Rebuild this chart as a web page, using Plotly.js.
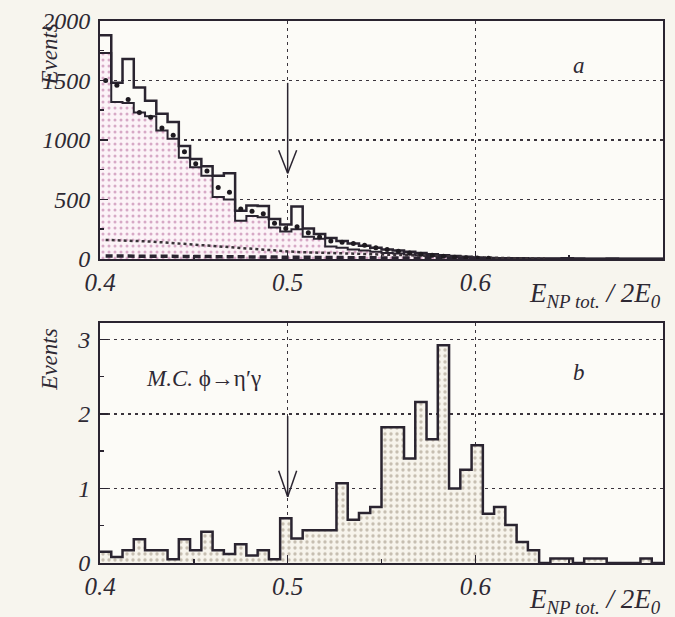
<!DOCTYPE html>
<html>
<head>
<meta charset="utf-8">
<script src="https://cdn.plot.ly/plotly-3.0.1.min.js"></script>
<style>
  html, body { margin: 0; padding: 0; background: #f7f5ee; }
  #chart { width: 675px; height: 617px; }
</style>
</head>
<body>
<div id="chart"></div>
<script>
// Binning shared by both panels: 50 bins of 0.006 from 0.4 to 0.7
const binStart = 0.4;
const binWidth = 0.006;

// Panel a: simulated spectra (two step histograms), data points and background curves
const simUpper = [1880, 1480, 1680, 1440, 1330, 1220, 1150, 950, 840, 780,
                  700, 720, 405, 450, 445, 335, 290, 440, 255, 210,
                  175, 150, 130, 110, 95, 80, 70, 60, 50, 40,
                  32, 25, 18, 12, 8, 6, 5, 5, 4, 3,
                  3, 6, 3, 2, 2, 3, 2, 2, 2, 2];
const simLower = [1730, 1320, 1310, 1230, 1200, 1080, 1010, 850, 770, 700,
                  520, 500, 320, 360, 350, 265, 230, 250, 187, 170,
                  105, 95, 80, 70, 60, 50, 45, 38, 30, 25,
                  20, 15, 12, 8, 5, 3, 2, 2, 2, 1,
                  1, 2, 1, 1, 1, 1, 1, 1, 1, 1];
const dataPoints = [1500, 1460, 1340, 1230, 1190, 1100, 1040, 900, 800, 740,
                    600, 560, 420, 400, 380, 300, 255, 270, 220, 185,
                    150, 140, 130, 115, 95, 80, 65, 50, 40, 30,
                    22, 15, 10, 8, 6];
const bgDotted = [160, 158, 155, 151, 146, 140, 133, 126, 120, 113,
                  104, 95, 88, 82, 75, 68, 62, 58, 55, 52,
                  50, 47, 45, 42, 40, 38, 35, 33, 30, 27,
                  25, 21, 18, 15, 12, 9, 7, 5, 4, 3];
const bgDashed = [25, 25, 24, 24, 23, 23, 22, 22, 21, 20,
                  20, 19, 18, 17, 16, 15, 14, 13, 12, 11,
                  10, 9, 8, 8, 7, 6, 6, 5, 5, 4,
                  4, 3, 3, 2, 2];

// Panel b: M.C. phi -> eta' gamma
const mcEtaPrime = [0.15, 0.08, 0.17, 0.32, 0.17, 0.17, 0.05, 0.32, 0.17, 0.42,
                    0.17, 0.12, 0.25, 0.10, 0.17, 0.05, 0.60, 0.33, 0.44, 0.44,
                    0.44, 1.07, 0.58, 0.67, 0.75, 1.82, 1.82, 1.40, 2.16, 1.66,
                    2.92, 1.00, 1.25, 1.58, 0.66, 0.75, 0.51, 0.28, 0.17, 0.00,
                    0.06, 0.06, 0.00, 0.06, 0.06, 0.00, 0.00, 0.00, 0.06, 0.00];

// Selection cut and the extent of the arrows marking it
const cutPosition = 0.5;
const arrowTop = [1480, 720];
const arrowBottom = [1.97, 0.89];

// Step outline of a histogram: bin low edges plus the final upper edge
function stepXY(values) {
  const x = [], y = [];
  values.forEach((v, i) => { x.push(binStart + i * binWidth); y.push(v); });
  x.push(binStart + values.length * binWidth);
  y.push(values[values.length - 1]);
  return { x, y };
}
function binCenters(values) {
  return values.map((v, i) => binStart + (i + 0.5) * binWidth);
}

const ink = '#2a2430';
const serif = 'Liberation Serif, Times New Roman, serif';
const textFont = (size, style) => ({ family: serif, size: size, color: '#2e2933', style: style || 'italic' });

const upper = stepXY(simUpper);
const lower = stepXY(simLower);
const mc = stepXY(mcEtaPrime);

const traces = [
  // shaded simulation in panel a
  { x: lower.x, y: lower.y, type: 'scatter', mode: 'lines', xaxis: 'x', yaxis: 'y',
    line: { shape: 'hv', color: ink, width: 2 }, fill: 'tozeroy',
    fillcolor: 'rgba(251,240,246,0.9)',
    fillpattern: { shape: '.', fgcolor: '#d7a9c6', bgcolor: '#fcf3f7', size: 6, solidity: 0.2 },
    hoverinfo: 'skip' },
  { x: upper.x, y: upper.y, type: 'scatter', mode: 'lines', xaxis: 'x', yaxis: 'y',
    line: { shape: 'hv', color: ink, width: 2.5 }, hoverinfo: 'skip' },
  { x: binCenters(bgDotted), y: bgDotted, type: 'scatter', mode: 'lines', xaxis: 'x', yaxis: 'y',
    line: { color: '#3a3238', width: 2.5, dash: 'dot' }, hoverinfo: 'skip' },
  { x: binCenters(bgDashed), y: bgDashed, type: 'scatter', mode: 'lines', xaxis: 'x', yaxis: 'y',
    line: { color: ink, width: 3.5, dash: '7px,4px' }, hoverinfo: 'skip' },
  { x: binCenters(dataPoints), y: dataPoints, type: 'scatter', mode: 'markers', xaxis: 'x', yaxis: 'y',
    marker: { color: '#1e1a20', size: 5 }, hoverinfo: 'skip' },
  // panel b
  { x: mc.x, y: mc.y, type: 'scatter', mode: 'lines', xaxis: 'x2', yaxis: 'y2',
    line: { shape: 'hv', color: ink, width: 2.5 }, fill: 'tozeroy',
    fillcolor: 'rgba(244,241,233,0.9)',
    fillpattern: { shape: '.', fgcolor: '#c6beb0', bgcolor: '#f7f4ec', size: 6, solidity: 0.25 },
    hoverinfo: 'skip' }
];

const gridStyle = { showgrid: true, gridcolor: '#3a343c', gridwidth: 1.5, griddash: '3px,4px' };
const frame = { showline: true, mirror: true, linecolor: ink, linewidth: 2, zeroline: false,
                ticks: 'inside', ticklen: 8, tickwidth: 1.5, tickcolor: ink };

const xCommon = Object.assign({}, frame, gridStyle, {
  range: [0.4, 0.7], tickmode: 'linear', tick0: 0.4, dtick: 0.1, tickformat: '.1f',
  tickfont: textFont(25), ticklabelstandoff: 0,
  minor: { tick0: 0.4, dtick: 0.05, ticks: 'inside', ticklen: 4, tickcolor: ink, showgrid: false }
});

const layout = {
  width: 675, height: 617,
  margin: { l: 100, r: 12, t: 21, b: 54 },
  paper_bgcolor: '#f7f5ee', plot_bgcolor: '#fcfbf7',
  showlegend: false,
  xaxis: Object.assign({}, xCommon, { anchor: 'y', domain: [0, 1] }),
  yaxis: Object.assign({}, frame, gridStyle, {
    domain: [0.561, 1], range: [0, 2000], tickmode: 'linear', tick0: 0, dtick: 500,
    tickfont: textFont(24), ticklabelstandoff: 3,
    minor: { dtick: 250, ticks: 'inside', ticklen: 4, tickcolor: ink, showgrid: false }
  }),
  xaxis2: Object.assign({}, xCommon, { anchor: 'y2', domain: [0, 1] }),
  yaxis2: Object.assign({}, frame, gridStyle, {
    domain: [0, 0.443], range: [0, 3.22], tickmode: 'linear', tick0: 0, dtick: 1,
    tickfont: textFont(24), ticklabelstandoff: 3,
    minor: { dtick: 0.5, ticks: 'inside', ticklen: 4, tickcolor: ink, showgrid: false }
  }),
  shapes: [
    { type: 'line', xref: 'x', yref: 'y', x0: cutPosition, x1: cutPosition, y0: arrowTop[0], y1: arrowTop[1],
      line: { color: ink, width: 1.5 } },
    { type: 'line', xref: 'x', yref: 'y', xsizemode: 'pixel', xanchor: cutPosition, x0: -9, x1: 0,
      ysizemode: 'pixel', yanchor: arrowTop[1], y0: 23, y1: 0, line: { color: ink, width: 1.5 } },
    { type: 'line', xref: 'x', yref: 'y', xsizemode: 'pixel', xanchor: cutPosition, x0: 9, x1: 0,
      ysizemode: 'pixel', yanchor: arrowTop[1], y0: 23, y1: 0, line: { color: ink, width: 1.5 } },
    { type: 'line', xref: 'x2', yref: 'y2', x0: cutPosition, x1: cutPosition, y0: arrowBottom[0], y1: arrowBottom[1],
      line: { color: ink, width: 1.5 } },
    { type: 'line', xref: 'x2', yref: 'y2', xsizemode: 'pixel', xanchor: cutPosition, x0: -9, x1: 0,
      ysizemode: 'pixel', yanchor: arrowBottom[1], y0: 26, y1: 0, line: { color: ink, width: 1.5 } },
    { type: 'line', xref: 'x2', yref: 'y2', xsizemode: 'pixel', xanchor: cutPosition, x0: 9, x1: 0,
      ysizemode: 'pixel', yanchor: arrowBottom[1], y0: 26, y1: 0, line: { color: ink, width: 1.5 } }
  ],
  annotations: [
    { text: 'Events', xref: 'paper', yref: 'y', x: 0, y: 1714, xshift: -65, textangle: -90,
      showarrow: false, font: textFont(23) },
    { text: 'Events', xref: 'paper', yref: 'y2', x: 0, y: 2.72, xshift: -65, textangle: -90,
      showarrow: false, font: textFont(23) },
    { text: 'E<sub>NP tot.</sub> / 2E<sub>0</sub>', xref: 'paper', yref: 'paper', x: 1, y: 0.494,
      xanchor: 'right', yanchor: 'middle', showarrow: false, font: textFont(27) },
    { text: 'E<sub>NP tot.</sub> / 2E<sub>0</sub>', xref: 'paper', yref: 'paper', x: 1, y: -0.07,
      xanchor: 'right', yanchor: 'middle', showarrow: false, font: textFont(27) },
    { text: 'a', xref: 'x', yref: 'y', x: 0.655, y: 1630, showarrow: false, font: textFont(23) },
    { text: 'b', xref: 'x2', yref: 'y2', x: 0.655, y: 2.56, showarrow: false, font: textFont(23) },
    { text: '<i>M.C.</i> \u03d5\u2192\u03b7\u2032\u03b3', xref: 'x2', yref: 'y2', x: 0.455, y: 2.48,
      showarrow: false, font: textFont(23, 'normal') }
  ]
};

Plotly.newPlot('chart', traces, layout, { staticPlot: true, displayModeBar: false });
</script>
</body>
</html>
